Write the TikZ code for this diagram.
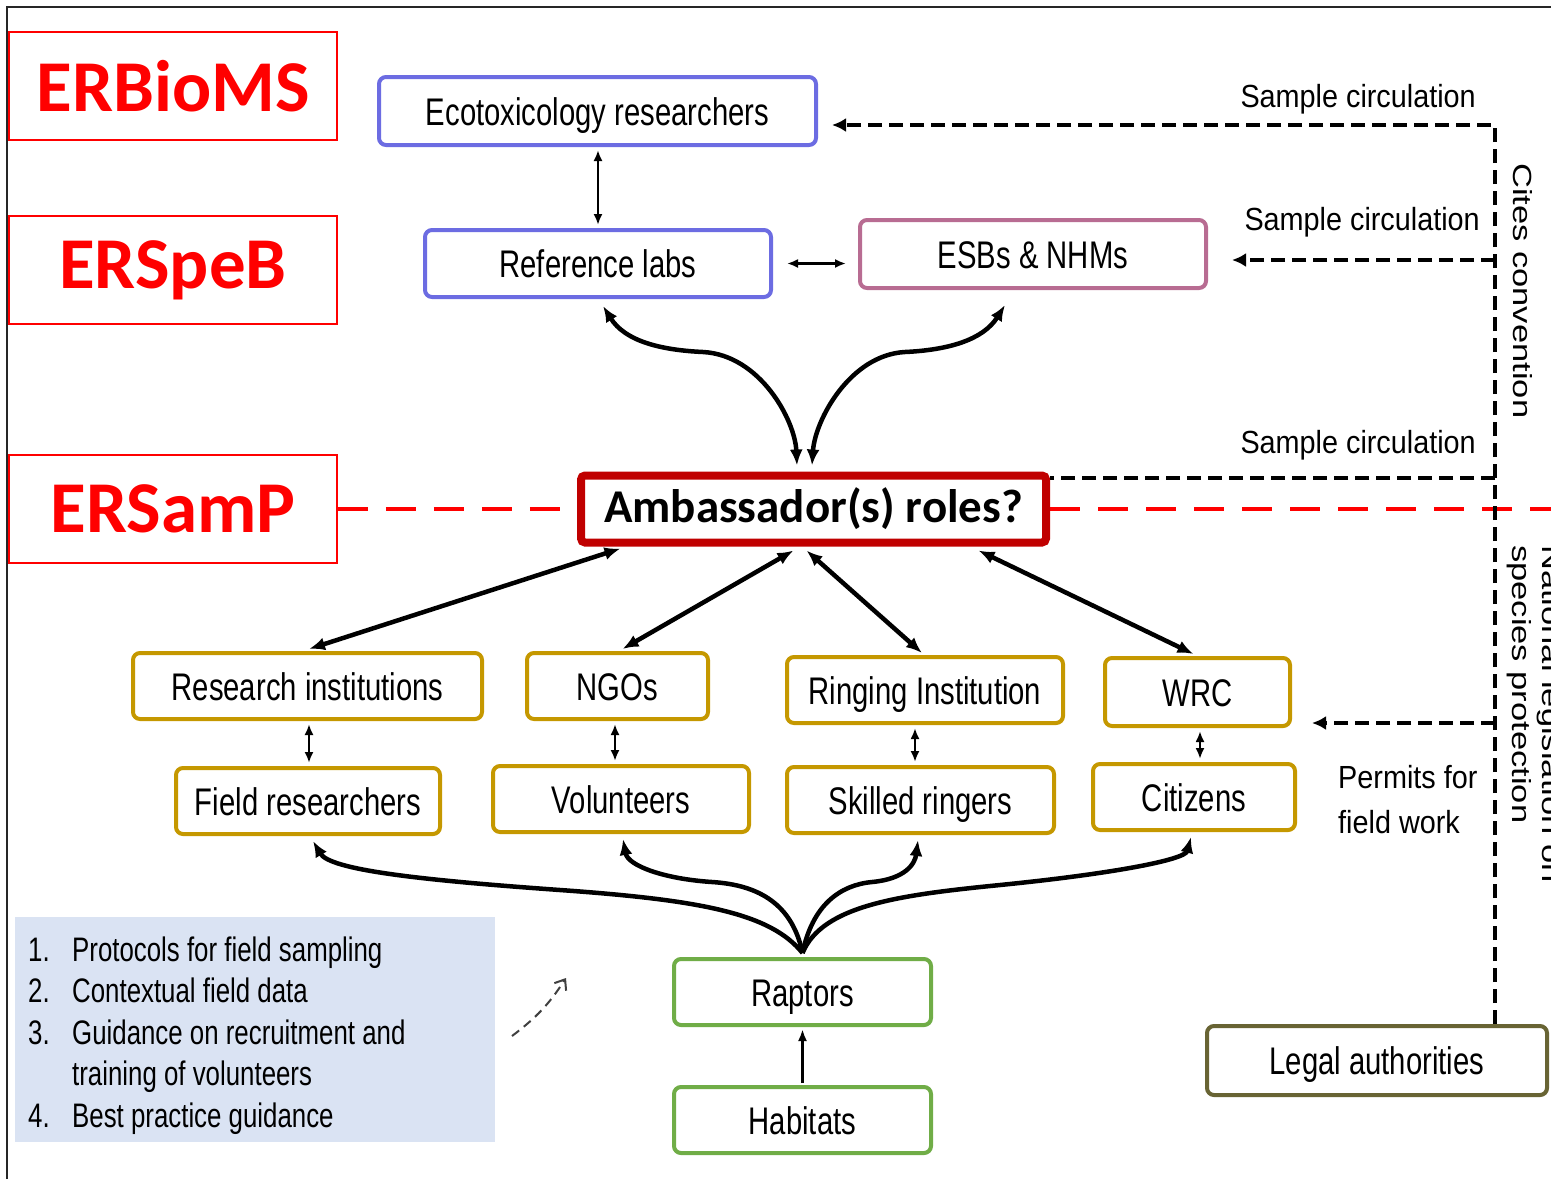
\documentclass[tikz,border=0pt]{standalone}
\usepackage{graphicx}
\usepackage{fontspec}
\setmainfont{Liberation Sans}
\newfontfamily\condf[FakeStretch=0.76]{Liberation Sans}
\newfontfamily\semif[FakeStretch=0.9]{Liberation Sans}
\newfontfamily\calib{Carlito}
\usetikzlibrary{arrows.meta,calc}
\definecolor{boxblue}{RGB}{108,108,226}
\definecolor{boxmauve}{RGB}{184,108,146}
\definecolor{boxgold}{RGB}{197,152,0}
\definecolor{boxgreen}{RGB}{112,173,71}
\definecolor{boxolive}{RGB}{104,100,52}
\definecolor{ambred}{RGB}{192,0,0}
\definecolor{listblue}{RGB}{218,227,243}
\pgfdeclarelayer{background}
\pgfsetlayers{background,main}
\begin{document}
\begin{tikzpicture}[x=1pt,y=-1pt,
  rbox/.style={draw, rounded corners=7pt, line width=4pt, fill=white, inner sep=0pt, text height=36pt, text depth=8pt, font=\condf\fontsize{38.5}{44}\selectfont},
  bluebox/.style={rbox, draw=boxblue},
  mauvebox/.style={rbox, draw=boxmauve},
  goldbox/.style={rbox, draw=boxgold},
  greenbox/.style={rbox, draw=boxgreen},
  olivebox/.style={rbox, draw=boxolive},
  tagbox/.style={draw=red, line width=1.8pt, text=red, font=\calib\bfseries\fontsize{73}{80}\selectfont, minimum width=328pt, minimum height=108pt, inner sep=0pt},
  sidelabel/.style={inner sep=0pt, font=\semif\fontsize{32}{45}\selectfont},
  rottext/.style={rotate=-90, anchor=base west, inner sep=0pt, font=\fontsize{34.5}{40}\selectfont},
  dblarrow/.style={line width=4.5pt, {Latex[length=16pt,width=13pt]}-{Latex[length=16pt,width=13pt]}},
  botcurve/.style={line width=4.5pt, -{Latex[length=16pt,width=13pt]}},
  smallarrow/.style={line width=2.2pt, {Latex[length=11pt,width=9pt]}-{Latex[length=11pt,width=9pt]}, shorten <=3pt, shorten >=3pt},
  blackdash/.style={line width=4pt, dash pattern=on 14pt off 7pt},
  dashtip/.style={-{Latex[length=14pt,width=14pt]}},
  reddash/.style={draw=red, line width=3.5pt, dash pattern=on 30pt off 18pt}
]
\useasboundingbox (0,0) rectangle (1551,1179);
\clip (0,0) rectangle (1551,1179);

% frame
\draw[line width=2pt, black!85] (7,1179) -- (7,7) -- (1551,7);

% level tags
\node[tagbox] (bioms) at (173,86) {ERBioMS};
\node[tagbox] (speb) at (173,270) {ERSpeB};
\node[tagbox] (samp) at (173,509) {ERSamP};

% boxes
\node[bluebox, minimum width=437pt, minimum height=68pt] (eco) at (597.5,111) {Ecotoxicology researchers};
\node[bluebox, minimum width=346pt, minimum height=67pt] (ref) at (598,263.5) {Reference labs};
\node[mauvebox, minimum width=346pt, minimum height=68pt] (esb) at (1033,254) {ESBs \& NHMs};
\node[draw=ambred, line width=8pt, rounded corners=4pt, fill=white, inner sep=0pt, minimum width=465pt, minimum height=67pt, font=\calib\bfseries\fontsize{47}{54}\selectfont] (amb) at (813.5,509) {Ambassador(s) roles?};

\node[goldbox, minimum width=349pt, minimum height=66pt] (ri) at (307.5,686) {Research institutions};
\node[goldbox, minimum width=181pt, minimum height=66pt] (ngo) at (617.5,686) {NGOs};
\node[goldbox, minimum width=276pt, minimum height=66pt] (ring) at (925,690) {Ringing Institution};
\node[goldbox, minimum width=185pt, minimum height=68pt] (wrc) at (1197.5,692) {WRC};
\node[goldbox, minimum width=264pt, minimum height=66pt] (fr) at (308,801) {Field researchers};
\node[goldbox, minimum width=256pt, minimum height=66pt] (vol) at (621,799) {Volunteers};
\node[goldbox, minimum width=267pt, minimum height=66pt] (sk) at (920.5,800) {Skilled ringers};
\node[goldbox, minimum width=202pt, minimum height=66pt] (cit) at (1194,797) {Citizens};

\node[greenbox, minimum width=257pt, minimum height=66pt] (rap) at (802.5,992) {Raptors};
\node[greenbox, minimum width=257pt, minimum height=66pt] (hab) at (802.5,1120) {Habitats};
\node[olivebox, minimum width=340pt, minimum height=69pt] (legal) at (1377,1060.5) {Legal authorities};

% list box
\node[fill=listblue, minimum width=480pt, minimum height=225pt, inner sep=0pt, anchor=north west] (listbg) at (15,917) {};
\node[anchor=base west, inner sep=0pt, font=\condf\fontsize{34}{41.5}\selectfont] (list) at (28,961) {\begin{tabular}[t]{@{}l@{}}
\makebox[44pt][l]{1.}Protocols for field sampling\\
\makebox[44pt][l]{2.}Contextual field data\\
\makebox[44pt][l]{3.}Guidance on recruitment and\\
\makebox[44pt][l]{}training of volunteers\\
\makebox[44pt][l]{4.}Best practice guidance
\end{tabular}};

% side labels
\node[sidelabel, anchor=base east] (sc1) at (1476,107) {Sample circulation};
\node[sidelabel, anchor=base east] (sc2) at (1480,230) {Sample circulation};
\node[sidelabel, anchor=base east] (sc3) at (1476,453) {Sample circulation};
\node[sidelabel, anchor=base west] (perm) at (1338,788) {\begin{tabular}[t]{@{}l@{}}Permits for\\field work\end{tabular}};

\node[rottext] (cites) at (1513,163) {\scalebox{1}[0.76]{Cites convention}};
\node[rottext] (natleg) at (1512,545) {\scalebox{1}[0.76]{\begin{tabular}[b]{@{}l@{}}National legislation on\\species protection\end{tabular}}};

% coordinates
\coordinate (v1) at (1495,125);
\coordinate (v2) at (1495,260);
\coordinate (v3) at (1495,478);
\coordinate (v4) at (1495,723);
\coordinate (redend) at (1551,509);
\coordinate (rs) at ([shift={(0,-4)}]rap.north);
\coordinate (da1) at (512,1036);
\coordinate (da2) at (566,978);

\begin{pgfonlayer}{background}
% red dashed separator
\draw[reddash] (samp.east) -- (amb.west);
\draw[reddash] (amb.east) -- (redend);

% black dashed legal lines
\draw[blackdash, dashtip] (legal.north -| v1) -- (v1) -- ([xshift=14pt]eco.east |- v1);
\draw[blackdash, dashtip] (v2) -- ([xshift=24pt]esb.east |- v2);
\draw[blackdash] (v3) -- (amb.east |- v3);
\draw[blackdash, dashtip] (v4) -- ([xshift=20pt]wrc.east |- v4);

% top connectors
\draw[smallarrow] ([xshift=0.5pt]eco.south) -- ([xshift=0.5pt]eco.south |- ref.north);
\draw[smallarrow, shorten <=14pt, shorten >=12pt] (ref.east) -- (ref.east -| esb.west);
\draw[dblarrow] ([shift={(5,7)}]ref.south) .. controls +(22,35) and (660,350) .. (703,352) .. controls (760,355) and (795,420) .. ([shift={(-16.5,-6)}]amb.north);
\draw[dblarrow] ([shift={(-28,15)}]esb.south) .. controls +(-22,35) and (948,350) .. (905,352) .. controls (850,355) and (815,420) .. ([shift={(-1.5,-6)}]amb.north);

% ambassador to organisations
\draw[dblarrow] ([shift={(-193,2)}]amb.south) -- ([shift={(1.5,-2)}]ri.north);
\draw[dblarrow] ([shift={(-20,4)}]amb.south) -- ([shift={(5,-2)}]ngo.north);
\draw[dblarrow] ([shift={(-7,4)}]amb.south) -- ([shift={(-3,-2)}]ring.north);
\draw[dblarrow] ([shift={(165,4)}]amb.south) -- ([shift={(-4,-2)}]wrc.north);

% organisation to people
\draw[smallarrow] ([xshift=1.5pt]ri.south) -- ([xshift=1.5pt]ri.south |- fr.north);
\draw[smallarrow] ([xshift=-2.5pt]ngo.south) -- ([xshift=-2.5pt]ngo.south |- vol.north);
\draw[smallarrow] ([xshift=-10pt]ring.south) -- ([xshift=-10pt]ring.south |- sk.north);
\draw[smallarrow] ([xshift=2.5pt]wrc.south) -- ([xshift=2.5pt]wrc.south |- cit.north);

% raptors to people
\draw[botcurve] (rs) .. controls +(-32,-40) and (700,900) .. (560,890) .. controls (420,880) and (330,870) .. ([shift={(5,5)}]fr.south);
\draw[botcurve] (rs) .. controls +(-10,-48) and (760,885) .. (712,882) .. controls (665,879) and (628,866) .. ([shift={(2,5)}]vol.south);
\draw[botcurve] (rs) .. controls +(10,-48) and (840,885) .. (872,882) .. controls (905,879) and (915,864) .. ([shift={(-2.5,5)}]sk.south);
\draw[botcurve] (rs) .. controls +(20,-48) and (900,895) .. (1000,885) .. controls (1110,874) and (1185,860) .. ([shift={(-3,5)}]cit.south);

% habitats to raptors
\draw[line width=2.5pt, -{Latex[length=12pt,width=9pt]}, shorten <=2pt, shorten >=2pt] (hab.north) -- (rap.south);
\end{pgfonlayer}

% small dashed hint arrow
\draw[dash pattern=on 9pt off 6pt, line width=2pt, black!75, -{Straight Barb[length=9pt,width=14pt]}] (da1) to[bend right=10] (da2);
\end{tikzpicture}
\end{document}
